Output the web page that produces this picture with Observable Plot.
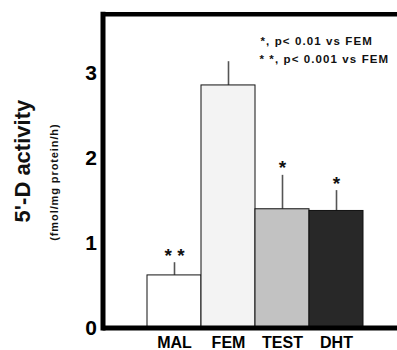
<!DOCTYPE html>
<html>
<head>
<meta charset="utf-8">
<script src="https://cdn.jsdelivr.net/npm/d3@7"></script>
<script src="https://cdn.jsdelivr.net/npm/@observablehq/plot@0.6"></script>
<style>
  html, body { margin: 0; padding: 0; background: #fff; }
  svg { font-family: "Liberation Sans", Arial, Helvetica, sans-serif; }
</style>
</head>
<body>
<div id="chart"></div>
<script>
const categories = ["MAL", "FEM", "TEST", "DHT"];
const means = [0.62, 2.86, 1.40, 1.38];
const errTops = [0.77, 3.14, 1.80, 1.62];
const significance = ["* *", "", "*", "*"];
const fills = ["#ffffff", "#f3f3f3", "#c2c2c2", "#282828"];
const yTicks = [0, 1, 2, 3];
const legendLines = ["*, p< 0.01 vs FEM", "* *, p< 0.001 vs FEM"];
const yTitle = "5'-D activity";
const yUnits = "(fmol/mg protein/h)";

const data = categories.map((c, i) => ({cat: c, v: means[i], top: errTops[i], sig: significance[i], fill: fills[i]}));

const W = 397, H = 350;
const plot = Plot.plot({
  width: W,
  height: H,
  marginLeft: 102.5,
  marginRight: 0,
  marginTop: 13.7,
  marginBottom: 22.5,
  style: {fontFamily: '"Liberation Sans", Arial, sans-serif', background: "#fff"},
  x: {type: "band", domain: categories, range: [146, 364], padding: 0, label: null},
  y: {domain: [0, 3.7], label: null},
  marks: [
    Plot.ruleX(data, {x: "cat", y1: "v", y2: "top", stroke: "#555", strokeWidth: 1.6}),
    Plot.barY(data, {x: "cat", y: "v", fill: "fill", stroke: "#111", strokeWidth: 1}),
    Plot.text(data.filter(d => d.sig), {x: "cat", y: "top", text: "sig", dy: -7, fontSize: 19, fontWeight: "bold", fill: "#111", lineAnchor: "middle"}),
    Plot.axisY({ticks: yTicks, tickSize: 0, tickPadding: 6, fontSize: 21, fontWeight: "bold", label: null, tickFormat: d => String(d)}),
    Plot.axisX({tickSize: 0, tickPadding: 9, fontSize: 16, fontWeight: "bold", label: null}),
    Plot.ruleY([0], {stroke: "#000", strokeWidth: 5}),
    Plot.ruleY([3.7], {stroke: "#000", strokeWidth: 4.5}),
    Plot.frame({anchor: "left", stroke: "#000", strokeWidth: 5}),
    Plot.text([legendLines[0]], {frameAnchor: "top-left", dx: 157.5, dy: 23, text: d => d, textAnchor: "start", fontSize: 11.5, fontWeight: "bold", fill: "#111"}),
    Plot.text([legendLines[1]], {frameAnchor: "top-left", dx: 156.5, dy: 41, text: d => d, textAnchor: "start", fontSize: 11.5, fontWeight: "bold", fill: "#111"}),
    Plot.text([yTitle], {frameAnchor: "left", dx: -80, dy: -10, rotate: -90, textAnchor: "middle", lineAnchor: "middle", text: d => d, fontSize: 22, fontWeight: "bold", fill: "#111"}),
    Plot.text([yUnits], {frameAnchor: "left", dx: -49, dy: 11, rotate: -90, textAnchor: "middle", lineAnchor: "middle", text: d => d, fontSize: 11, fontWeight: "bold", fill: "#111"})
  ]
});
const svgSel = d3.select(plot);
svgSel.selectAll("text").filter(function() { return this.textContent.startsWith("*,") || this.textContent.startsWith("* *,"); }).style("letter-spacing", "1.1px");
svgSel.selectAll("text").filter(function() { return this.textContent === yUnits; }).style("letter-spacing", "0.9px");
document.getElementById("chart").appendChild(plot);
</script>
</body>
</html>
